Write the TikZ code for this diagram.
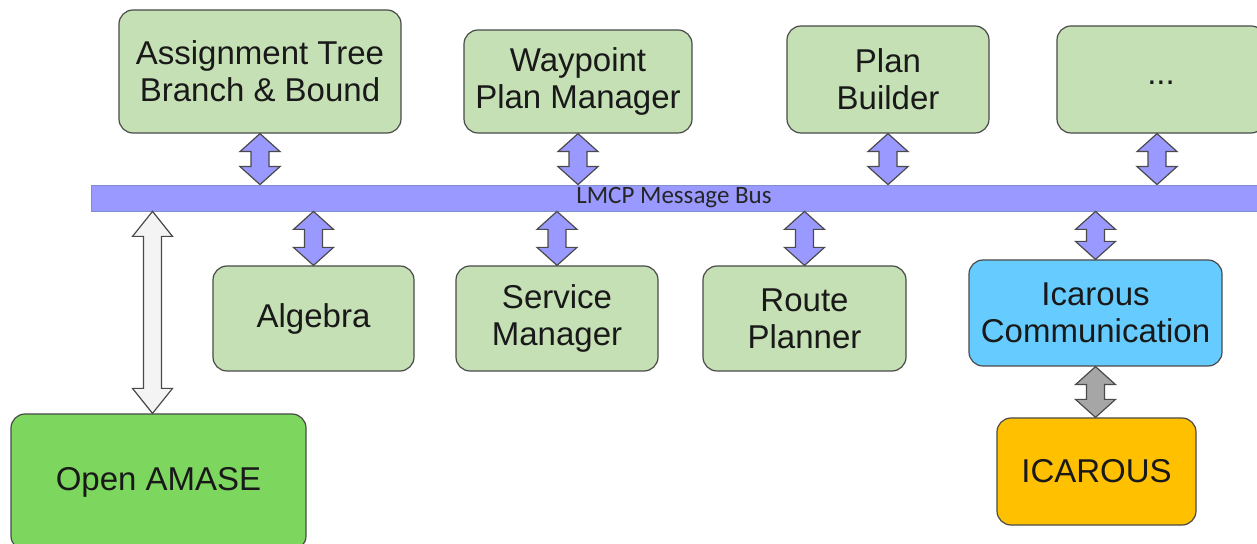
\documentclass[tikz,border=0pt]{standalone}
\usepackage{fontspec}
\setmainfont{Liberation Sans}
\newfontfamily\busfont{Carlito}
\usetikzlibrary{calc}

\definecolor{modgreen}{HTML}{C5E0B4}
\definecolor{amasegreen}{HTML}{7DD65E}
\definecolor{icablue}{HTML}{66CCFF}
\definecolor{icayellow}{HTML}{FFC000}
\definecolor{busblue}{HTML}{9999FF}
\definecolor{busedge}{HTML}{7F8FD0}
\definecolor{edgegray}{HTML}{4A4A4A}
\definecolor{arrowgray}{HTML}{A6A6A6}
\definecolor{arrowwhite}{HTML}{F4F4F4}

\newcommand{\modfont}{\fontsize{16.5}{18.5}\selectfont}

% fat double arrow: optional head length, fill, upper point, lower point
\newcommand{\fatarrow}[4][9pt]{%
  \draw[fatline, fill=#2] let \p1=(#3), \p2=(#4) in
    (\x1,\y1) -- ++(10pt,-#1) -- ++(-5.5pt,0) -- (\x1+4.5pt,\y2+#1) -- ++(5.5pt,0)
    -- (\x1,\y2) -- (\x1-10pt,\y2+#1) -- ++(5.5pt,0) -- (\x1-4.5pt,\y1-#1)
    -- ++(-5.5pt,0) -- cycle;}

\tikzset{
  module/.style={draw=edgegray, line width=0.6pt, rounded corners=7pt,
    fill=modgreen, align=center, font=\modfont, text=black!90, inner sep=0pt},
  fatline/.style={draw=edgegray, line width=0.6pt, line join=miter},
}

\begin{document}
\begin{tikzpicture}[x=0.5pt,y=-0.5pt]
  \useasboundingbox (0,0) rectangle (1257,544);

  % top row
  \node[module, minimum width=141pt, minimum height=61.5pt] (asg) at (260,71.5)
    {Assignment Tree\\Branch \& Bound};
  \node[module, minimum width=114pt, minimum height=51.5pt] (wpm) at (578,81.5)
    {Waypoint\\Plan Manager};
  \node[module, minimum width=101pt, minimum height=53.5pt] (pbd) at (888,79.5)
    {Plan\\Builder};
  \node[module, minimum width=104pt, minimum height=53.5pt] (etc) at (1161,79.5)
    {\raisebox{-5pt}{...}};

  % message bus
  \node[draw=busedge, line width=0.4pt, fill=busblue, minimum width=583pt,
    minimum height=13pt, inner sep=0pt, font=\busfont\fontsize{12.5}{13}\selectfont,
    text=black!85] (bus) at (674,198) {\raisebox{-1pt}{LMCP Message Bus}};

  % second row
  \node[module, minimum width=100.5pt, minimum height=52.5pt] (alg) at (313.5,318.5)
    {Algebra};
  \node[module, minimum width=101pt, minimum height=52.5pt] (svc) at (557,318.5)
    {Service\\Manager};
  \node[module, minimum width=101.5pt, minimum height=52.5pt] (rte) at (804.5,318.5)
    {Route\\Planner};
  \node[module, fill=icablue, minimum width=126.5pt, minimum height=53pt] (icom) at (1095.5,313)
    {Icarous\\Communication};

  % outside
  \node[module, fill=icayellow, minimum width=99.5pt, minimum height=53.5pt] (ica) at (1096.5,471.5)
    {ICAROUS};
  \node[module, fill=amasegreen, minimum width=147.5pt, minimum height=68pt] (amase) at (158.5,482)
    {Open AMASE};

  % arrows to the bus
  \fatarrow{busblue}{asg.south}{asg.south |- bus.north}
  \fatarrow{busblue}{wpm.south}{wpm.south |- bus.north}
  \fatarrow{busblue}{pbd.south}{pbd.south |- bus.north}
  \fatarrow{busblue}{$(etc.south)+(-2pt,0)$}{etc.south |- bus.north}
  \fatarrow{busblue}{alg.north |- bus.south}{alg.north}
  \fatarrow{busblue}{svc.north |- bus.south}{svc.north}
  \fatarrow{busblue}{rte.north |- bus.south}{rte.north}
  \fatarrow{busblue}{icom.north |- bus.south}{icom.north}
  \fatarrow{arrowgray}{icom.south}{ica.north}
  \fatarrow[12.5pt]{arrowwhite}{$(amase.north |- bus.south)+(-3pt,0)$}{amase.north}
\end{tikzpicture}
\end{document}
